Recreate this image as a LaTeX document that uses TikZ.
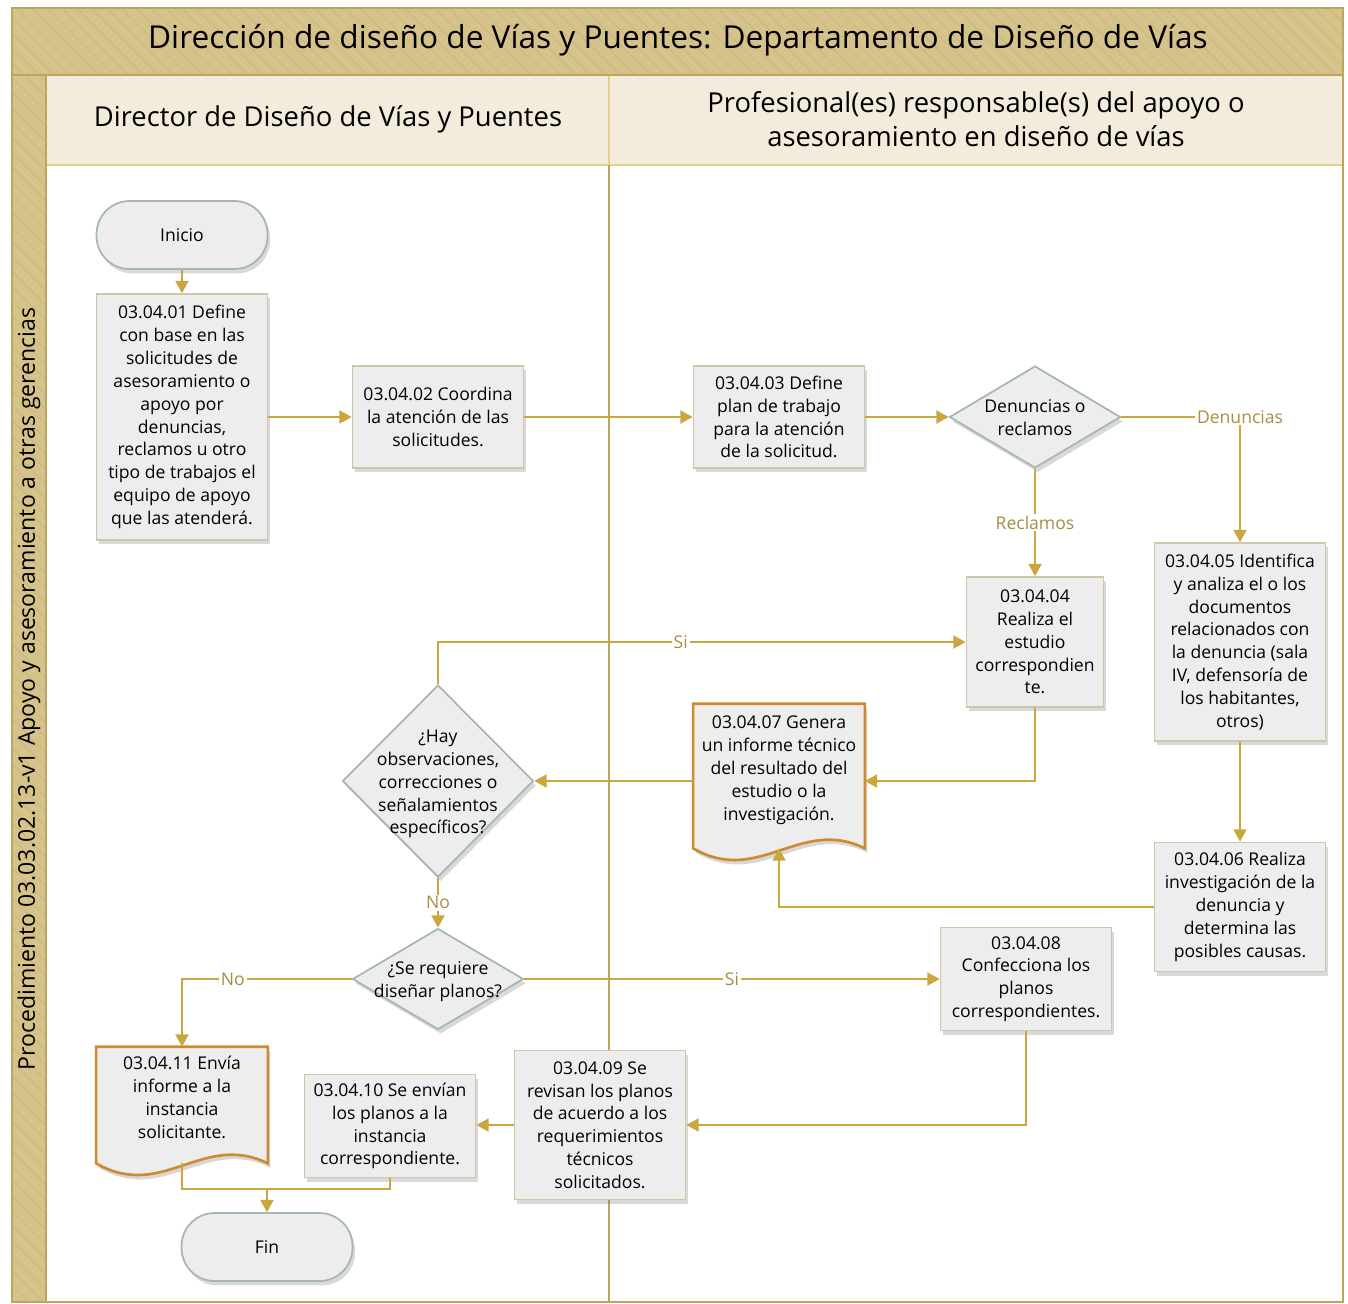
\documentclass[tikz,border=0pt]{standalone}
\usepackage{fontspec}
\setmainfont{Open Sans}
\usetikzlibrary{shapes.geometric,arrows.meta,shadows,patterns.meta}

\definecolor{tanband}{HTML}{D6C38B}
\definecolor{tanhatch}{HTML}{CCB77A}
\definecolor{laneline}{HTML}{BBA560}
\definecolor{headfill}{HTML}{F3EBDC}
\definecolor{headline}{HTML}{E2D08C}
\definecolor{boxfill}{HTML}{EDEDED}
\definecolor{boxline}{HTML}{D0C7A6}
\definecolor{termline}{HTML}{A5B8AF}
\definecolor{docline}{HTML}{D08A2E}
\definecolor{flowcol}{HTML}{C9A73E}
\definecolor{lblcol}{HTML}{A68F3F}

\pgfdeclarelayer{bg}
\pgfsetlayers{bg,main}

\newcommand\flowfont{\fontsize{10}{13}\selectfont}
\newcommand\dtxt[1]{\makebox[0pt]{\smash{\raisebox{-4pt}{\begin{tabular}{@{}c@{}}#1\end{tabular}}}}}
% forma de documento (borde inferior ondulado)
\newcommand\docshape[1]{%
  \fill[black!45,opacity=.35,transform canvas={xshift=1.5pt,yshift=-2.5pt}]
    (#1.north west) -- (#1.north east) -- (#1.south east)
    .. controls +(-65,-32) and +(66,38) .. (#1.south west) -- cycle;
  \filldraw[draw=docline,fill=boxfill,line width=1.5pt]
    (#1.north west) -- (#1.north east) -- (#1.south east)
    .. controls +(-65,-32) and +(66,38) .. (#1.south west) -- cycle;}

\tikzset{
  shade/.style={drop shadow={shadow xshift=1.5pt,shadow yshift=-2.5pt,opacity=.3}},
  box/.style={draw=boxline, line width=1pt, fill=boxfill, align=center,
    inner sep=2pt, font=\flowfont, minimum width=3.42cm, shade},
  term/.style={box, draw=termline, rounded corners=0.66cm, minimum height=1.36cm},
  decision/.style={diamond, draw=termline, line width=1pt, fill=boxfill,
    inner sep=0pt, font=\flowfont, shade},
  docnode/.style={align=center, inner sep=2pt, font=\flowfont, minimum width=3.42cm, text depth=9pt},
  band/.style={fill=tanband, postaction={pattern={Lines[angle=-45,distance=6pt,line width=.5pt]}, pattern color=tanhatch}},
  flow/.style={draw=flowcol, line width=.8pt, ->, >={Triangle[length=7pt,width=7.5pt]}, fill=none},
  flowline/.style={draw=flowcol, line width=.8pt},
  lbl/.style={text=lblcol, fill=white, inner sep=1pt, font=\flowfont},
}

\begin{document}
\begin{tikzpicture}[x=0.02cm, y=-0.02cm]
\useasboundingbox (0,0) rectangle (1348,1303);
% carriles
\path[band] (12,8) rectangle (1343,75);
\path[band] (12,75) rectangle (46,1302);
\filldraw[fill=headfill, draw=headline, line width=.8pt] (46,75) rectangle (609,165);
\filldraw[fill=headfill, draw=headline, line width=.8pt] (609,75) rectangle (1343,165);
\draw[laneline, line width=.9pt] (12,8) rectangle (1343,1302);
\draw[laneline, line width=.9pt] (12,75) -- (1343,75);
\draw[laneline, line width=.9pt] (46,75) -- (46,1302);
\draw[laneline, line width=.9pt] (609,165) -- (609,1302);

\node[font=\fontsize{18}{22}\selectfont] (ttl) at (678,40)
  {Dirección de diseño de Vías y Puentes: Departamento de Diseño de Vías};
\node[rotate=90, font=\fontsize{13.1}{16}\selectfont] (proc) at (29,689)
  {Procedimiento 03.03.02.13-v1 Apoyo y asesoramiento a otras gerencias};
\node[font=\fontsize{15.6}{19}\selectfont] (dir) at (328,119)
  {Director de Diseño de Vías y Puentes};
\node[align=center, font=\fontsize{15.6}{19.5}\selectfont] (prof) at (976,119)
  {Profesional(es) responsable(s) del apoyo o\\asesoramiento en diseño de vías};

% nodos
\node[term] (ini) at (182,235) {Inicio};
\node[box, minimum height=4.92cm] (n01) at (182,417)
  {03.04.01 Define\\con base en las\\solicitudes de\\asesoramiento o\\apoyo por\\denuncias,\\reclamos u otro\\tipo de trabajos el\\equipo de apoyo\\que las atenderá.};
\node[box, minimum height=2.04cm] (n02) at (438,417)
  {03.04.02 Coordina\\la atención de las\\solicitudes.};
\node[box, minimum height=2.04cm] (n03) at (779,417)
  {03.04.03 Define\\plan de trabajo\\para la atención\\de la solicitud.};
\node[decision, minimum width=3.42cm, minimum height=2.04cm] (dd) at (1035,417)
  {\dtxt{Denuncias o\\reclamos}};
\node[box, minimum width=2.74cm, minimum height=2.6cm] (n04) at (1035,642)
  {03.04.04\\Realiza el\\estudio\\correspondien\\te.};
\node[box, minimum height=3.96cm] (n05) at (1240,642)
  {03.04.05 Identifica\\y analiza el o los\\documentos\\relacionados con\\la denuncia (sala\\IV, defensoría de\\los habitantes,\\otros)};
\node[box, minimum height=2.58cm] (n06) at (1240,907)
  {03.04.06 Realiza\\investigación de la\\denuncia y\\determina las\\posibles causas.};
\node[docnode, minimum height=2.88cm] (n07) at (779,776)
  {03.04.07 Genera\\un informe técnico\\del resultado del\\estudio o la\\investigación.};
\node[decision, minimum width=3.82cm, minimum height=3.84cm] (dh) at (438,781)
  {\dtxt{¿Hay\\observaciones,\\correcciones o\\señalamientos\\específicos?}};
\node[decision, minimum width=3.42cm, minimum height=2.02cm] (ds) at (438,979)
  {\dtxt{¿Se requiere\\diseñar planos?}};
\node[box, minimum height=2.06cm] (n08) at (1026,979)
  {03.04.08\\Confecciona los\\planos\\correspondientes.};
\node[box, minimum height=2.98cm] (n09) at (600,1125)
  {03.04.09 Se\\revisan los planos\\de acuerdo a los\\requerimientos\\técnicos\\solicitados.};
\node[box, minimum height=2.06cm] (n10) at (390,1126)
  {03.04.10 Se envían\\los planos a la\\instancia\\correspondiente.};
\node[docnode, minimum height=2.32cm] (n11) at (182,1105)
  {03.04.11 Envía\\informe a la\\instancia\\solicitante.};
\node[term] (fin) at (267,1247) {Fin};
\coordinate (mrg) at (267,1189);

\begin{pgfonlayer}{bg}
\docshape{n07}
\docshape{n11}
\end{pgfonlayer}

% conectores
\draw[flow] (ini) -- (n01);
\draw[flow] (n01) -- (n02);
\draw[flow] (n02) -- (n03);
\draw[flow] (n03) -- (dd);
\draw[flow] (dd.east) -| node[lbl]{Denuncias} (n05.north);
\draw[flow] (dd.south) -- node[lbl]{Reclamos} (n04.north);
\draw[flow] (n05) -- (n06);
\draw[flow] (n06.west) -| (n07.south);
\draw[flow] (n04.south) |- (n07.east |- dh.east);
\draw[flow] (n07.west |- dh.east) -- (dh.east);
\draw[flow] (dh.north) |- node[lbl, pos=.73]{Si} (n04.west);
\draw[flow] (dh.south) -- node[lbl]{No} (ds.north);
\draw[flow] (ds.west) -| node[lbl, pos=.35]{No} (n11.north);
\draw[flow] (ds.east) -- node[lbl]{Si} (n08.west);
\draw[flow] (n08.south) |- (n09.east);
\draw[flow] (n09.west) -- (n10.east |- n09.west);
\draw[flowline] (n11.south) |- (mrg);
\draw[flowline] (n10.south) |- (mrg);
\draw[flow] (mrg) -- (fin.north);
\end{tikzpicture}
\end{document}
